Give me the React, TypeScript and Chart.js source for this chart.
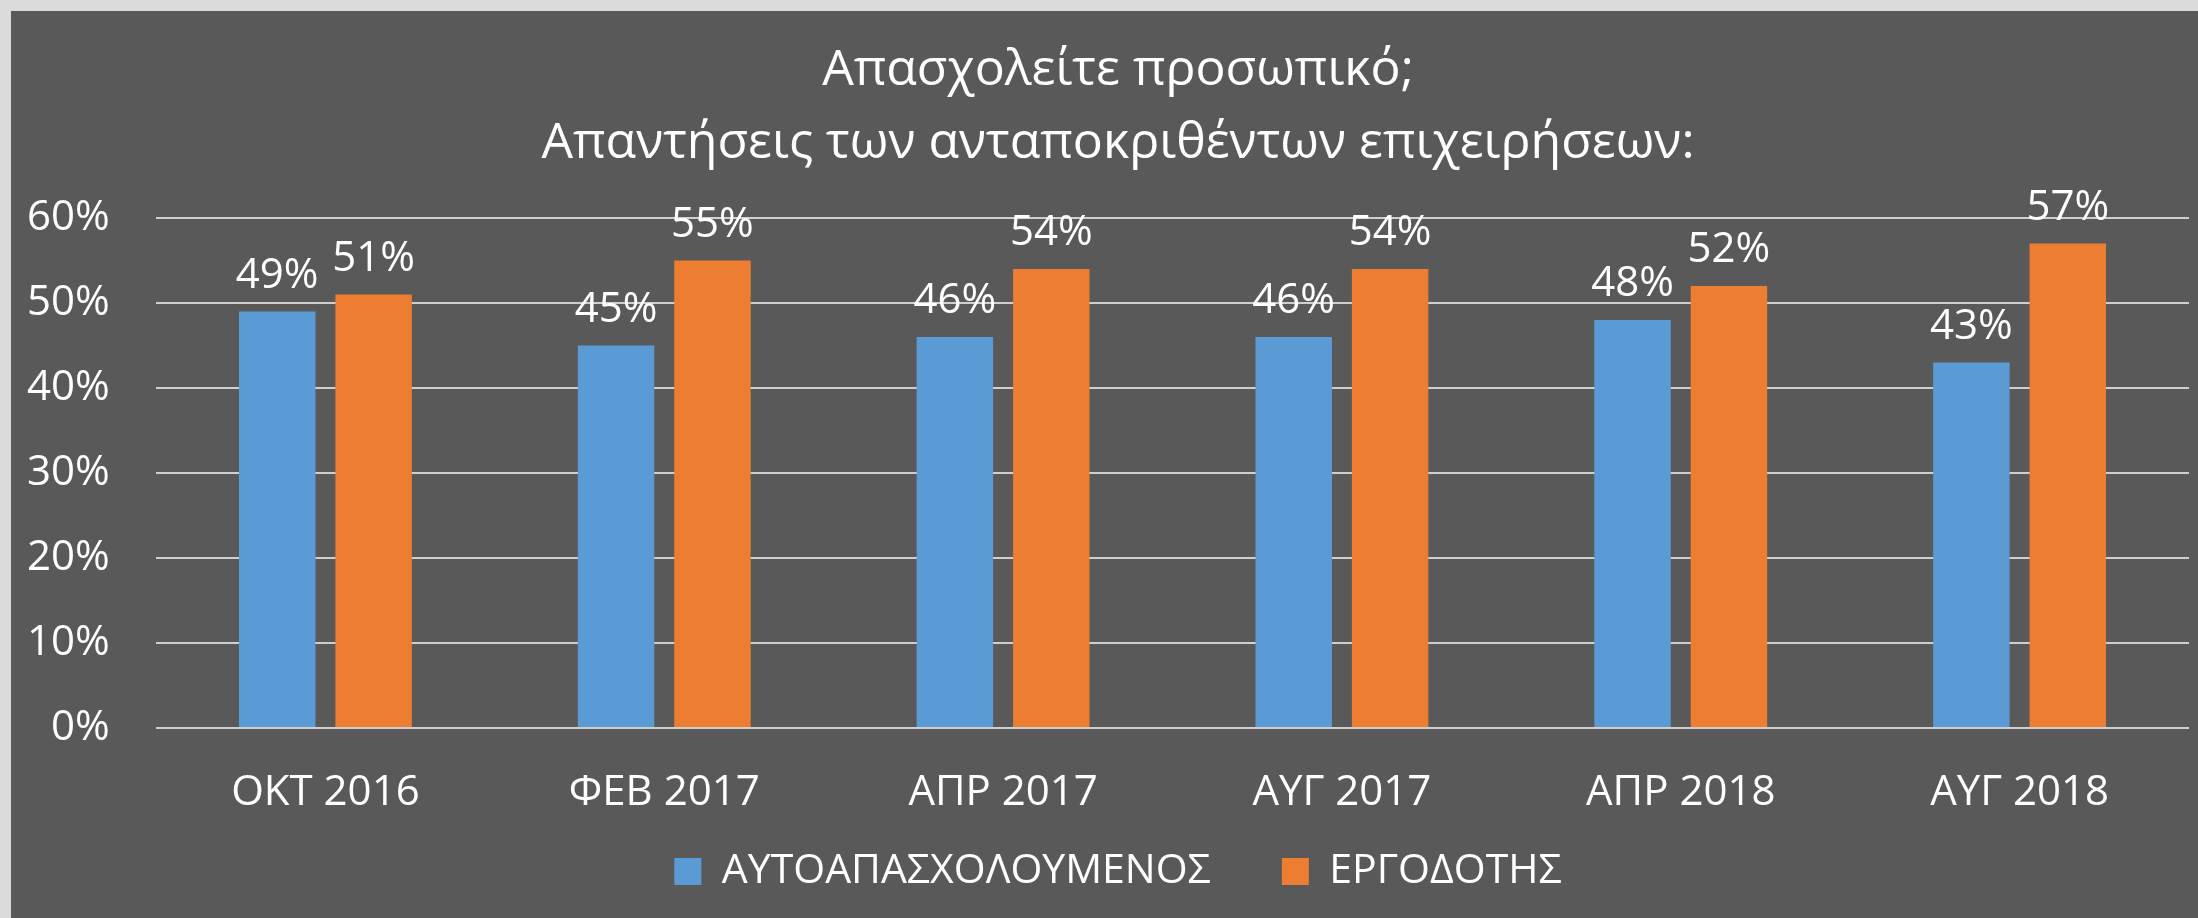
import { useEffect, useRef } from 'react';
import { Chart, registerables } from 'chart.js';

Chart.register(...registerables);

const categories = ['ΟΚΤ 2016', 'ΦΕΒ 2017', 'ΑΠΡ 2017', 'ΑΥΓ 2017', 'ΑΠΡ 2018', 'ΑΥΓ 2018'];
const selfEmployed = [49, 45, 46, 46, 48, 43];
const employer = [51, 55, 54, 54, 52, 57];
const seriesNames = ['ΑΥΤΟΑΠΑΣΧΟΛΟΥΜΕΝΟΣ', 'ΕΡΓΟΔΟΤΗΣ'];
const titleLines = ['Απασχολείτε προσωπικό;', 'Απαντήσεις των ανταποκριθέντων επιχειρήσεων:'];

const FONT = "'Open Sans', sans-serif";

const dataLabels = {
  id: 'dataLabels',
  afterDatasetsDraw(chart: any) {
    const ctx = chart.ctx;
    ctx.save();
    ctx.font = `42px ${FONT}`;
    ctx.fillStyle = '#ffffff';
    ctx.textAlign = 'center';
    ctx.textBaseline = 'alphabetic';
    chart.data.datasets.forEach((ds: any, i: number) => {
      const meta = chart.getDatasetMeta(i);
      meta.data.forEach((el: any, j: number) => {
        ctx.fillText(ds.data[j] + '%', el.x, el.y - 24);
      });
    });
    ctx.restore();
  },
};

export default function App() {
  const ref = useRef<HTMLCanvasElement>(null);
  useEffect(() => {
    document.body.style.margin = '0';
    const chart = new Chart(ref.current!, {
      type: 'bar',
      data: {
        labels: categories,
        datasets: [
          {
            label: seriesNames[0],
            data: selfEmployed,
            backgroundColor: '#5B9BD5',
            categoryPercentage: 0.569,
            barPercentage: 0.793,
          },
          {
            label: seriesNames[1],
            data: employer,
            backgroundColor: '#ED7D31',
            categoryPercentage: 0.569,
            barPercentage: 0.793,
          },
        ],
      },
      options: {
        responsive: false,
        animation: false,
        devicePixelRatio: 1,
        layout: { padding: { left: 36, right: 9, top: 0, bottom: 16 } },
        plugins: {
          title: {
            display: true,
            text: titleLines,
            color: '#ffffff',
            font: { family: FONT, size: 50, weight: 'normal', lineHeight: 73 / 50 },
            padding: { top: 23, bottom: 38 },
          },
          legend: {
            position: 'bottom',
            labels: {
              color: '#ffffff',
              boxWidth: 27,
              boxHeight: 27,
              padding: 71,
              font: { family: FONT, size: 41 },
            },
          },
          tooltip: { enabled: false },
        },
        scales: {
          x: {
            grid: { display: false },
            border: { display: false },
            ticks: {
              color: '#ffffff',
              font: { family: FONT, size: 42 },
              mirror: true,
              padding: -90,
              maxRotation: 0,
            },
            afterFit: (s: any) => { s.height = 52; },
          },
          y: {
            min: 0,
            max: 60,
            grid: { color: '#cfcfcf', lineWidth: 2, drawTicks: false },
            border: { display: false },
            ticks: {
              stepSize: 10,
              color: '#ffffff',
              font: { family: FONT, size: 42 },
              mirror: true,
              crossAlign: 'far',
              padding: -129,
              callback: (v: any) => v + '%',
            },
            afterFit: (s: any) => { s.width = 109; },
          },
        },
      },
      plugins: [dataLabels],
    });
    return () => chart.destroy();
  }, []);
  return (
    <div style={{ position: 'relative', width: 2198, height: 918, background: '#dbdbdb', overflow: 'hidden' }}>
      <canvas
        ref={ref}
        width={2187}
        height={907}
        style={{ position: 'absolute', left: 11, top: 11, display: 'block', background: '#595959' }}
      />
    </div>
  );
}
